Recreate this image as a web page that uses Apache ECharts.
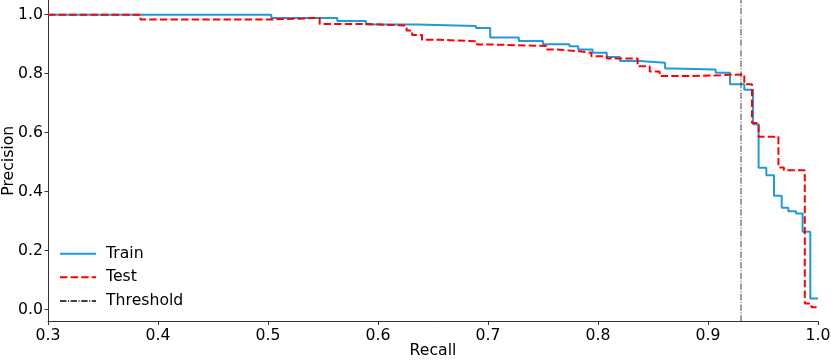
<!DOCTYPE html>
<html><head><meta charset="utf-8">
<script src="https://cdn.jsdelivr.net/npm/echarts@6/dist/echarts.min.js"></script>
<style>html,body{margin:0;padding:0;background:#fff}#c{width:831px;height:360px}</style>
</head><body><div id="c"></div>
<script>
// Train precision-recall curve (step, value holds from recall[i] to recall[i+1])
const trainRecall = [0.300, 0.503, 0.563, 0.589, 0.635, 0.689, 0.702, 0.728, 0.750, 0.774, 0.782, 0.795, 0.808, 0.820, 0.838, 0.861, 0.868, 0.907, 0.920, 0.933, 0.941, 0.946, 0.953, 0.960, 0.967, 0.973, 0.980, 0.986, 0.993, 1.000];
const trainPrecision = [1.000, 0.989, 0.979, 0.967, 0.962, 0.955, 0.923, 0.911, 0.900, 0.893, 0.882, 0.871, 0.857, 0.843, 0.837, 0.818, 0.814, 0.803, 0.764, 0.746, 0.629, 0.481, 0.456, 0.386, 0.346, 0.334, 0.326, 0.264, 0.038, 0.038];
// Test precision-recall curve
const testRecall = [0.300, 0.384, 0.503, 0.547, 0.590, 0.626, 0.631, 0.640, 0.656, 0.690, 0.704, 0.753, 0.763, 0.783, 0.794, 0.808, 0.836, 0.847, 0.856, 0.883, 0.911, 0.933, 0.940, 0.946, 0.964, 0.969, 0.988, 0.994, 1.000];
const testPrecision = [1.000, 0.984, 0.989, 0.969, 0.963, 0.947, 0.931, 0.915, 0.910, 0.899, 0.894, 0.882, 0.876, 0.871, 0.859, 0.852, 0.825, 0.808, 0.792, 0.795, 0.798, 0.764, 0.633, 0.586, 0.482, 0.473, 0.021, 0.008, 0.008];
const thresholdRecall = 0.93;
const xTicks = [0.3, 0.4, 0.5, 0.6, 0.7, 0.8, 0.9, 1.0];
const yTicks = [0.0, 0.2, 0.4, 0.6, 0.8, 1.0];
const xMin = 0.3, xMax = 1.0, yMin = -0.04, yMax = 1.05;

const FONT = 'DejaVu Sans';
const FS = 15.7;
const zip = (a, b) => a.map((v, i) => [v, b[i]]);

const chart = echarts.init(document.getElementById('c'), null, {renderer: 'canvas'});
const axisCommon = {
  axisLine: {onZero: false, lineStyle: {color: '#000', width: 0.8}},
  axisTick: {length: 3.5, lineStyle: {color: '#000', width: 0.8}},
  splitLine: {show: false},
  nameMoveOverlap: false,
  nameTextStyle: {fontFamily: FONT, fontSize: FS, color: '#000'}
};
chart.setOption({
  animation: false,
  backgroundColor: '#fff',
  grid: {left: 48, right: 13, top: 0, bottom: 38.5, containLabel: false, outerBoundsMode: 'none'},
  xAxis: Object.assign({}, axisCommon, {
    type: 'value', min: xMin, max: xMax,
    name: 'Recall', nameLocation: 'middle', nameGap: 21,
    axisTick: Object.assign({}, axisCommon.axisTick, {customValues: xTicks}),
    axisLabel: {customValues: xTicks, formatter: v => v.toFixed(1), fontFamily: FONT, fontSize: FS, color: '#000', margin: 6}
  }),
  yAxis: Object.assign({}, axisCommon, {
    type: 'value', min: yMin, max: yMax,
    name: 'Precision', nameLocation: 'middle', nameGap: 31,
    axisTick: Object.assign({}, axisCommon.axisTick, {customValues: yTicks}),
    axisLabel: {customValues: yTicks, formatter: v => v.toFixed(1), fontFamily: FONT, fontSize: FS, color: '#000', margin: 5}
  }),
  legend: {
    orient: 'vertical', left: 54, top: 240.7,
    itemWidth: 36, itemHeight: 14, itemGap: 7.6,
    itemStyle: {opacity: 0},
    textStyle: {fontFamily: FONT, fontSize: FS, lineHeight: 14, color: '#000', padding: [0, 0, 0, 5]},
    data: ['Train', 'Test', 'Threshold']
  },
  series: [
    {name: 'Train', type: 'line', step: 'end', symbol: 'none', showSymbol: false,
     data: zip(trainRecall, trainPrecision),
     lineStyle: {color: '#209bd8', width: 2}, itemStyle: {color: '#209bd8'}},
    {name: 'Test', type: 'line', step: 'end', symbol: 'none', showSymbol: false,
     data: zip(testRecall, testPrecision),
     lineStyle: {color: '#ff0000', width: 2, type: [7.4, 3.2]}, itemStyle: {color: '#ff0000'}},
    {name: 'Threshold', type: 'line', symbol: 'none', showSymbol: false,
     data: [[thresholdRecall, yMin], [thresholdRecall, yMax]],
     lineStyle: {color: 'rgba(30,30,30,0.85)', width: 1, type: [6.4, 1.6, 1, 1.6]}, itemStyle: {color: 'rgba(30,30,30,0.85)'}}
  ]
});
</script>
</body></html>
